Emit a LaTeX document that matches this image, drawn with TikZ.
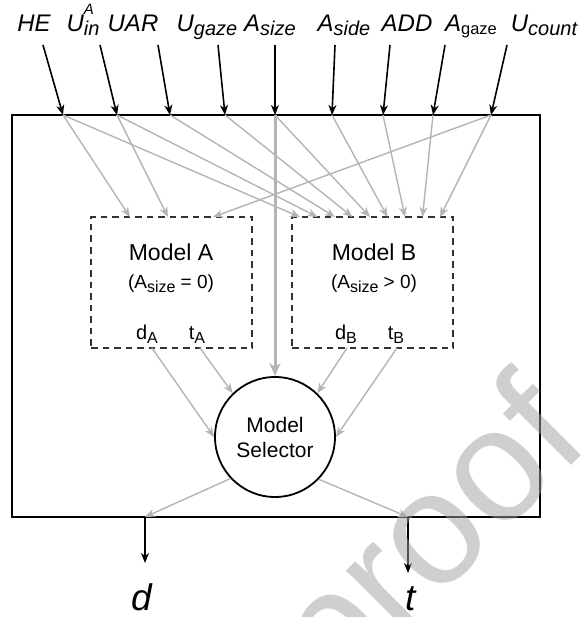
\documentclass[tikz,border=0pt]{standalone}
\usepackage{fontspec}
\setmainfont{Liberation Sans}
\usetikzlibrary{arrows.meta}
\definecolor{lg}{RGB}{180,180,180}
\definecolor{dg}{RGB}{50,50,50}
\definecolor{wm}{RGB}{160,160,160}
\newcommand{\lsub}[1]{\raisebox{-4pt}{\fontsize{20}{20}\selectfont #1}}
\newcommand{\gsub}[1]{\raisebox{-3pt}{\fontsize{16.5}{16.5}\selectfont\upshape #1}}
\newcommand{\msub}[1]{\raisebox{-4.5pt}{\fontsize{16}{16}\selectfont #1}}
\begin{document}
\begin{tikzpicture}[x=1pt,y=-1pt,
  inlabel/.style={font=\fontsize{24}{28}\selectfont\itshape, inner sep=0pt, anchor=base},
  inarrow/.style={draw=black, line width=1.6pt, -{Stealth[length=10pt,width=8pt,inset=3pt]}},
  feed/.style={draw=lg, line width=1.4pt, -{Stealth[length=10pt,width=8pt,inset=3pt]}},
  thickfeed/.style={draw=lg, line width=3pt, -{Stealth[length=13pt,width=11pt,inset=4pt]}},
  modelbox/.style={draw=dg, line width=1.8pt, dash pattern=on 6.5pt off 5pt, minimum width=161pt, minimum height=131pt, inner sep=0pt},
  port/.style={font=\fontsize{20}{24}\selectfont, inner sep=0pt, anchor=base},
  outlabel/.style={font=\fontsize{37}{40}\selectfont\itshape, inner sep=0pt, anchor=base}
]
\useasboundingbox (0,0) rectangle (582,617);

% outer system box
\node[draw=black, line width=2pt, minimum width=528pt, minimum height=402pt, inner sep=0pt] (sys) at (276,316) {};

% model boxes
\node[modelbox] (A) at (171.5,282.5) {};
\node[modelbox] (B) at (372.5,282.5) {};
\node[font=\fontsize{23}{27}\selectfont, inner sep=0pt, anchor=base] (mA) at (171,260) {Model A};
\node[font=\fontsize{19}{23}\selectfont, inner sep=0pt, anchor=base] (cA) at (171,288) {(A\msub{size} = 0)};
\node[font=\fontsize{23}{27}\selectfont, inner sep=0pt, anchor=base] (mB) at (374,260) {Model B};
\node[font=\fontsize{19}{23}\selectfont, inner sep=0pt, anchor=base] (cB) at (374,288) {(A\msub{size} > 0)};
\node[port] (pdA) at (147,339) {d\msub{A}};
\node[port] (ptA) at (197,339) {t\msub{A}};
\node[port] (pdB) at (346,339) {d\msub{B}};
\node[port] (ptB) at (396,339) {t\msub{B}};

% selector
\node[circle, draw=black, line width=1.8pt, minimum size=120pt, inner sep=0pt, align=center,
      font=\fontsize{21}{25}\selectfont] (sel) at (275,437) {Model\\Selector};

% input labels
\node[inlabel] (lHE) at (34,32) {HE};
\node[inlabel] (lUin) at (83,32) {U\rlap{\raisebox{17.5pt}{\fontsize{15}{15}\selectfont A}}\raisebox{-3.5pt}{\fontsize{20}{20}\selectfont in}};
\node[inlabel] (lUAR) at (133,32) {UAR};
\node[inlabel] (lUg) at (207,32) {U\lsub{gaze}};
\node[inlabel] (lAsz) at (270,32) {A\lsub{size}};
\node[inlabel] (lAsd) at (344,32) {A\lsub{side}};
\node[inlabel] (lADD) at (407,32) {ADD};
\node[inlabel] (lAg) at (471,32) {A\gsub{gaze}};
\node[inlabel] (lUc) at (544,32) {U\lsub{count}};

% input arrow start / end points
\coordinate (sHE) at (43,45);   \coordinate (eHE) at (63,115);
\coordinate (sUin) at (100,45); \coordinate (eUin) at (117,115);
\coordinate (sUAR) at (158,45); \coordinate (eUAR) at (170,115);
\coordinate (sUg) at (218,45);  \coordinate (eUg) at (225,115);
\coordinate (sAsz) at (275,45); \coordinate (eAsz) at (275,115);
\coordinate (sAsd) at (335,45); \coordinate (eAsd) at (332,115);
\coordinate (sADD) at (390,45); \coordinate (eADD) at (383,115);
\coordinate (sAg) at (445,45);  \coordinate (eAg) at (433,115);
\coordinate (sUc) at (507,45);  \coordinate (eUc) at (491,115);

\foreach \n in {HE,Uin,UAR,Ug,Asz,Asd,ADD,Ag,Uc}
  \draw[inarrow] (s\n) -- (e\n);

% targets on model tops
\coordinate (a1) at (130,217);
\coordinate (a2) at (168,217);
\coordinate (a3) at (213,217);
\coordinate (b1) at (300,217);
\coordinate (b2) at (317.5,217);
\coordinate (b3) at (335,217);
\coordinate (b4) at (352.5,217);
\coordinate (b5) at (370,217);
\coordinate (b6) at (387.5,217);
\coordinate (b7) at (405,217);
\coordinate (b8) at (422.5,217);
\coordinate (b9) at (440,217);

\draw[feed] (eHE) -- (a1);
\draw[feed] (eUin) -- (a2);
\draw[feed] (eUc) -- (a3);
\draw[feed] (eHE) -- (b1);
\draw[feed] (eUin) -- (b2);
\draw[feed] (eUAR) -- (b3);
\draw[feed] (eUg) -- (b4);
\draw[feed] (eAsz) -- (b5);
\draw[feed] (eAsd) -- (b6);
\draw[feed] (eADD) -- (b7);
\draw[feed] (eAg) -- (b8);
\draw[feed] (eUc) -- (b9);

\draw[thickfeed] (eAsz) -- (sel.north);

% model outputs to selector
\coordinate (odA) at (152,348);
\coordinate (otA) at (200,348);
\coordinate (odB) at (347,348);
\coordinate (otB) at (397,348);
\draw[feed] (odA) -- (sel.west);
\draw[feed] (otA) -- (sel.134);
\draw[feed] (odB) -- (sel.46);
\draw[feed] (otB) -- (sel.east);

% selector outputs
\coordinate (od) at (145,517);
\coordinate (ot) at (408,517);
\coordinate (dend) at (145,563);
\coordinate (tend) at (408,573);
\draw[feed] (sel.223) -- (od);
\draw[feed] (sel.316) -- (ot);
\draw[inarrow] (od) -- (dend);
\draw[inarrow] (ot) -- (tend);
\node[outlabel] (ld) at (142,610) {d};
\node[outlabel] (lt) at (411,610) {t};

% watermark
\begin{scope}
\clip (0,0) rectangle (582,617);
\node[rotate=45, anchor=base west, inner sep=0pt, text=wm, text opacity=0.5,
      font=\fontsize{160}{160}\selectfont] (wmark) at (335,702) {proof};
\end{scope}
\end{tikzpicture}
\end{document}
